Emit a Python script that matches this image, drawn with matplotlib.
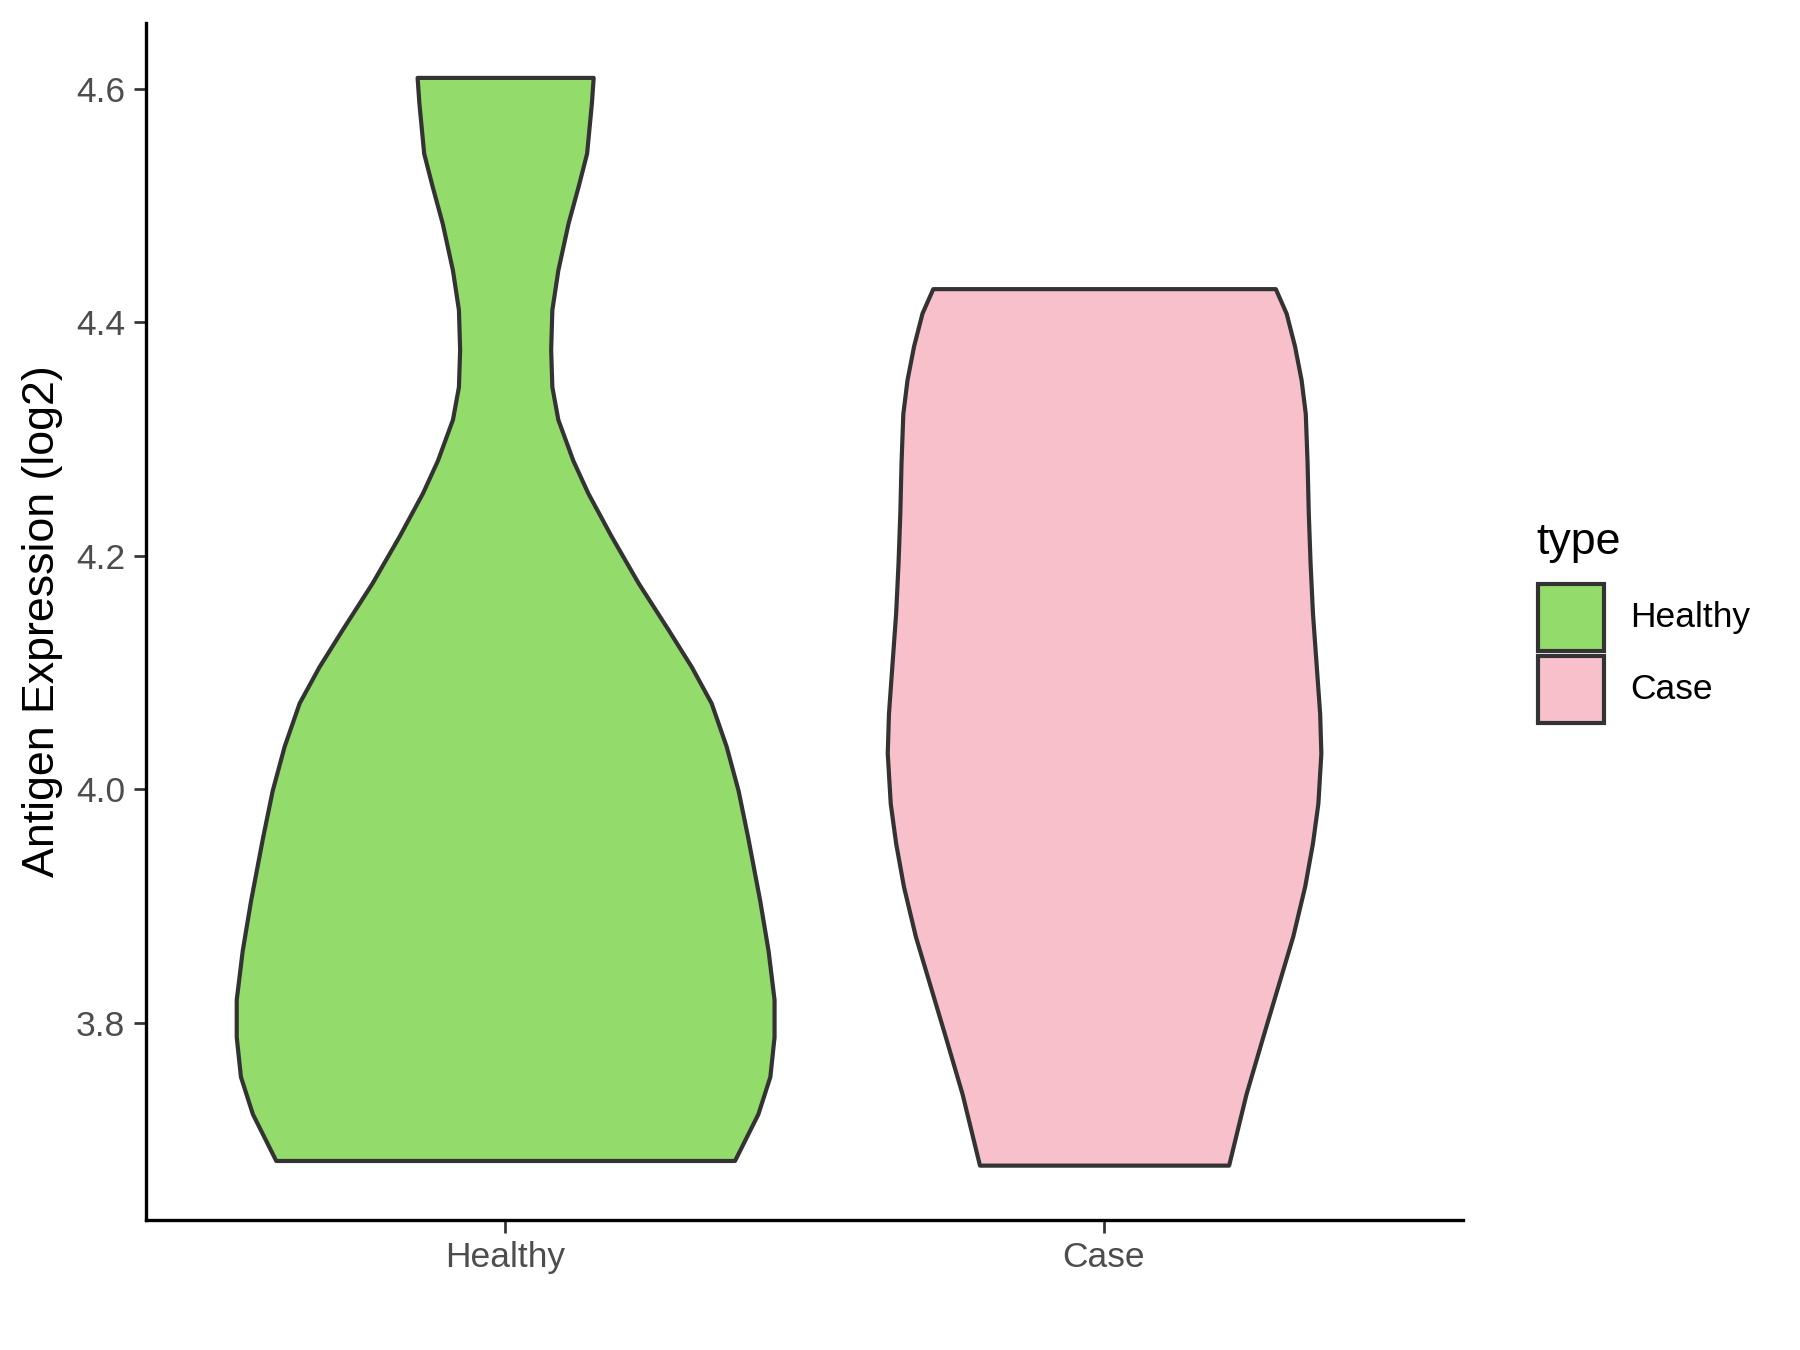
import matplotlib
matplotlib.use("Agg")
import matplotlib.pyplot as plt
from matplotlib.patches import Rectangle
import numpy as np

plt.rcParams["font.family"] = ["Liberation Sans", "DejaVu Sans"]

groups = ["Healthy", "Case"]
colors = ["#93DB6A", "#F7C0CA"]

# violin outlines: expression level and half width (x units)
healthy_y = [4.610, 4.588, 4.545, 4.517, 4.485, 4.445, 4.411, 4.377, 4.345, 4.317,
             4.282, 4.254, 4.217, 4.177, 4.137, 4.105, 4.074, 4.037, 3.999, 3.959,
             3.905, 3.862, 3.820, 3.788, 3.754, 3.722, 3.682]
healthy_w = [0.147, 0.144, 0.136, 0.122, 0.105, 0.088, 0.078, 0.076, 0.078, 0.088,
             0.113, 0.138, 0.177, 0.222, 0.272, 0.311, 0.344, 0.369, 0.389, 0.405,
             0.425, 0.439, 0.449, 0.449, 0.442, 0.422, 0.383]

case_y = [4.429, 4.408, 4.380, 4.351, 4.322, 4.280, 4.237, 4.194, 4.151, 4.108,
          4.065, 4.031, 3.988, 3.954, 3.917, 3.874, 3.831, 3.788, 3.739, 3.678]
case_w = [0.286, 0.304, 0.318, 0.329, 0.336, 0.339, 0.341, 0.344, 0.348, 0.354,
          0.360, 0.362, 0.357, 0.348, 0.335, 0.315, 0.290, 0.265, 0.237, 0.208]

yticks = [3.8, 4.0, 4.2, 4.4, 4.6]

fig = plt.figure(figsize=(12, 9), dpi=150)
ax = fig.add_axes([0.081, 0.0963, 0.732, 0.887])

outlines = [(healthy_y, healthy_w), (case_y, case_w)]
for i, ((ys, ws), col) in enumerate(zip(outlines, colors)):
    ys = np.asarray(ys)
    ws = np.asarray(ws)
    pos = i + 1
    ax.fill_betweenx(ys, pos - ws, pos + ws, facecolor=col,
                     edgecolor="#333333", linewidth=2.0, zorder=2,
                     joinstyle="round")

ax.set_xlim(0.4, 2.6)
ax.set_ylim(3.631, 4.657)
ax.set_xticks([1, 2])
ax.set_xticklabels(groups)
ax.set_yticks(yticks)
ax.set_yticklabels([f"{v:.1f}" for v in yticks])
ax.tick_params(axis="both", labelsize=17, labelcolor="#4D4D4D",
               length=6, width=1.3, color="#333333", pad=4)
for side in ["top", "right"]:
    ax.spines[side].set_visible(False)
for side in ["left", "bottom"]:
    ax.spines[side].set_linewidth(1.6)
    ax.spines[side].set_color("black")
ax.set_ylabel("Antigen Expression (log2)", fontsize=21.5, labelpad=6)

# legend drawn by hand to match the ggplot key boxes
fig.text(0.8533, 0.5985, "type", fontsize=21.5, va="center", ha="left")
key_bottoms = [0.5178, 0.4644]
for lab, col, yb in zip(groups, colors, key_bottoms):
    fig.patches.append(Rectangle((0.8544, yb), 0.0367, 0.0496, transform=fig.transFigure,
                                 facecolor=col, edgecolor="#333333", linewidth=2.0))
    fig.text(0.9056, yb + 0.0248, lab, fontsize=17, va="center", ha="left")

fig.savefig("out.png", dpi=150, facecolor="white")
